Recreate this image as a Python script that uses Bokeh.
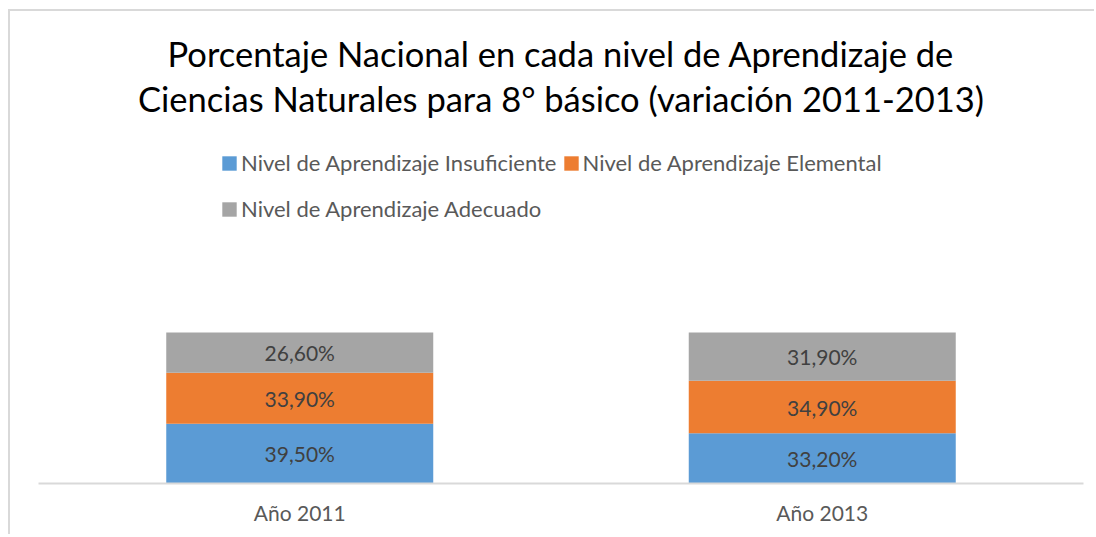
from bokeh.plotting import figure
from bokeh.models import (ColumnDataSource, FactorRange, Range1d, Legend, LegendItem,
                          Label, LabelSet)
from bokeh.core.properties import value
from bokeh.embed import file_html
from bokeh.resources import INLINE

# ---- data ----
years = ["Año 2011", "Año 2013"]
levels = ["Insuficiente", "Elemental", "Adecuado"]
insuficiente = [39.5, 33.2]
elemental = [33.9, 34.9]
adecuado = [26.6, 31.9]
legend_labels = ["Nivel de Aprendizaje Insuficiente",
                 "Nivel de Aprendizaje Elemental",
                 "Nivel de Aprendizaje Adecuado"]
colors = ["#5B9BD5", "#ED7D31", "#A5A5A5"]
title_lines = ["Porcentaje Nacional en cada nivel de Aprendizaje de",
               "Ciencias Naturales para 8° básico (variación 2011-2013)"]

FONT = "Lato"
PX_PER_UNIT = 1.51
OX, OY = 10, 11          # canvas origin on the page (margin + border)
AXIS_Y = 483             # page y of the category axis
FRAME_H = AXIS_Y - OY
W, H = 1096 - OX, 537 - OY - 1

src = ColumnDataSource(dict(x=years, Insuficiente=insuficiente,
                            Elemental=elemental, Adecuado=adecuado))

p = figure(x_range=FactorRange(*years, range_padding=0),
           y_range=Range1d(0, FRAME_H / PX_PER_UNIT),
           width=W, height=H, output_backend="svg", toolbar_location=None,
           y_axis_location=None, min_border_top=0, min_border_left=38 - OX,
           min_border_right=W - (38 - OX) - 1045, min_border_bottom=H - FRAME_H)
p.styles = {"margin-left": "8px", "margin-top": "9px",
            "border-left": "2px solid #d9d9d9", "border-top": "2px solid #d9d9d9"}
p.outline_line_color = None
p.xgrid.grid_line_color = None
p.ygrid.grid_line_color = None

rs = p.vbar_stack(levels, x="x", width=0.511, source=src, color=colors, line_color=None)

# data labels
bottoms = [0.0, 0.0]
lab_x, lab_y, lab_t = [], [], []
for series in (insuficiente, elemental, adecuado):
    for i, v in enumerate(series):
        lab_x.append(years[i])
        lab_y.append(bottoms[i] + v / 2)
        lab_t.append(f"{v:.2f}".replace(".", ",") + "%")
        bottoms[i] += v
p.add_layout(LabelSet(x="x", y="y", text="t",
                      source=ColumnDataSource(dict(x=lab_x, y=lab_y, t=lab_t)),
                      text_align="center", text_baseline="middle",
                      text_font=value(FONT), text_font_size=value("21px"),
                      text_color="#404040"))

# axis
ax = p.xaxis[0]
ax.axis_line_color = "#d9d9d9"
ax.axis_line_width = 2
ax.major_tick_line_color = None
ax.minor_tick_line_color = None
ax.major_label_text_font = FONT
ax.major_label_text_font_size = "21px"
ax.major_label_text_color = "#595959"
ax.major_label_standoff = 10

# title as two centred lines
for txt, base in zip(title_lines, [53, 98]):
    p.add_layout(Label(x=1.0, y=(AXIS_Y - base) / PX_PER_UNIT, text=txt,
                       text_align="center", text_baseline="alphabetic",
                       text_font=FONT, text_font_size="34.5px", text_color="#000000"))

# legends
items = [LegendItem(label=l, renderers=[r]) for l, r in zip(legend_labels, rs)]
common = dict(orientation="horizontal", padding=0, margin=0, spacing=5,
              glyph_width=18, glyph_height=18, label_height=18, label_standoff=3,
              label_text_font=FONT, label_text_font_size="22px",
              label_text_color="#595959", border_line_color=None,
              background_fill_alpha=0)
leg1 = Legend(items=items[:2], location=(222 - 38 - 2, AXIS_Y - 167 - 9), **common)
leg2 = Legend(items=items[2:], location=(222 - 38 - 2, AXIS_Y - 213 - 9), **common)
p.add_layout(leg1, "center")
p.add_layout(leg2, "center")

open("out.html", "w").write(file_html(p, INLINE))
